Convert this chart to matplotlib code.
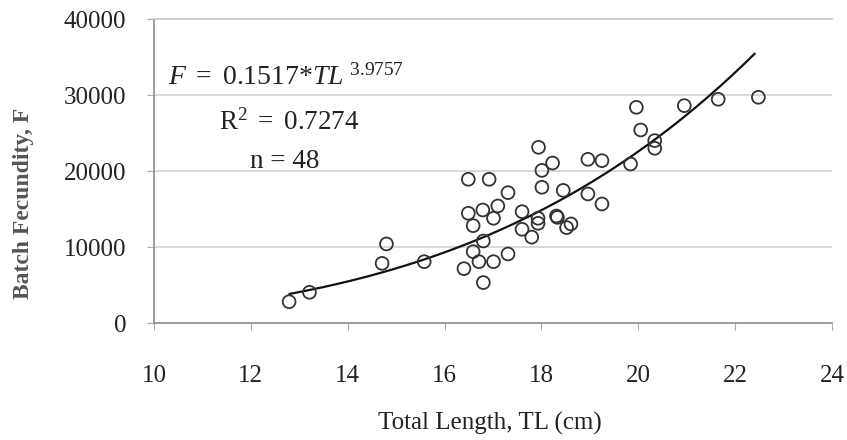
import matplotlib
matplotlib.use("Agg")
import matplotlib.pyplot as plt
import numpy as np

plt.rcParams['font.family'] = ['Liberation Serif', 'DejaVu Serif']
plt.rcParams['mathtext.fontset'] = 'custom'
plt.rcParams['mathtext.rm'] = 'Liberation Serif'
plt.rcParams['mathtext.it'] = 'Liberation Serif:italic'

# Data
total_length = [12.79, 13.21, 14.71, 14.80, 15.58, 16.40, 16.49, 16.49, 16.59, 16.59,
                16.71, 16.79, 16.80, 16.80, 16.92, 17.01, 17.01, 17.10, 17.31, 17.31,
                17.60, 17.60, 17.80, 17.93, 17.93, 17.94, 18.01, 18.01, 18.23, 18.31,
                18.33, 18.45, 18.52, 18.61, 18.96, 18.96, 19.25, 19.25, 19.84, 19.96,
                20.05, 20.34, 20.34, 20.95, 21.65, 22.48]
fecundity = [2800, 4040, 7850, 10400, 8070, 7150, 18910, 14440, 12810, 9390,
             8070, 14870, 10790, 5320, 18910, 13780, 8070, 15400, 17150, 9080,
             14650, 12330, 11300, 13780, 13120, 23120, 20080, 17860, 21050, 14080,
             13900, 17450, 12550, 13030, 21540, 16980, 21360, 15660, 20920, 28380,
             25400, 24000, 22990, 28600, 29440, 29700]

# Fitted power curve shown on the chart
coef_a = 0.1517
coef_b = 3.9757
fit_range = [12.8, 22.4]

x_ticks = [10, 12, 14, 16, 18, 20, 22, 24]
y_ticks = [0, 10000, 20000, 30000, 40000]

fig = plt.figure(figsize=(8.47, 4.40), dpi=100)
ax = fig.add_axes([154/847, 1 - 323/440, (832-154)/847, (323-19)/440])

ax.set_xlim(10, 24)
ax.set_ylim(0, 40000)
ax.set_xticks(x_ticks)
ax.set_yticks(y_ticks)

for v in y_ticks[1:-1]:
    ax.axhline(v, color='#d6d6d6', lw=1.3, zorder=0)

xs = np.linspace(fit_range[0], fit_range[1], 200)
ax.plot(xs, coef_a * xs ** coef_b, color='#111111', lw=1.6, zorder=2)

ax.scatter(total_length, fecundity, s=85, facecolors='none', edgecolors='#333333',
           linewidths=1.3, zorder=3)

ax.spines['right'].set_visible(False)
ax.spines['top'].set_color('#c8c8c8')
ax.spines['top'].set_linewidth(1.3)
ax.spines['left'].set_color('#8a8a8a')
ax.spines['bottom'].set_color('#8a8a8a')
ax.spines['left'].set_linewidth(1.2)
ax.spines['bottom'].set_linewidth(1.2)

ax.tick_params(axis='x', direction='out', length=5, color='#aaaaaa', pad=25,
               labelsize=18, labelcolor='#222222')
ax.tick_params(axis='y', direction='out', length=5, color='#aaaaaa', pad=15,
               labelsize=18, labelcolor='#222222')

fig.text(490/847, 1 - 423/440, 'Total Length, TL (cm)', ha='center', va='center',
         fontsize=18, color='#222222')
fig.text(23/847, 1 - 203/440, 'Batch Fecundity, F', ha='center', va='center',
         rotation=90, fontsize=17, fontweight='bold', color='#555555')

fig.text(168/847, 1 - 85/440,
         r'$\mathit{F}\ \mathrm{=\ 0.1517{*}}\mathit{TL}^{\ \mathrm{3.9757}}$',
         ha='left', va='baseline', fontsize=20, color='#222222')
fig.text(219/847, 1 - 130/440, r'$\mathrm{R}^{2}\mathrm{\ =\ 0.7274}$',
         ha='left', va='baseline', fontsize=19.5, color='#222222')
fig.text(250/847, 1 - 168/440, 'n = 48', ha='left', va='baseline',
         fontsize=19.5, color='#222222')

fig.savefig('out.png', dpi=100, facecolor='white')
